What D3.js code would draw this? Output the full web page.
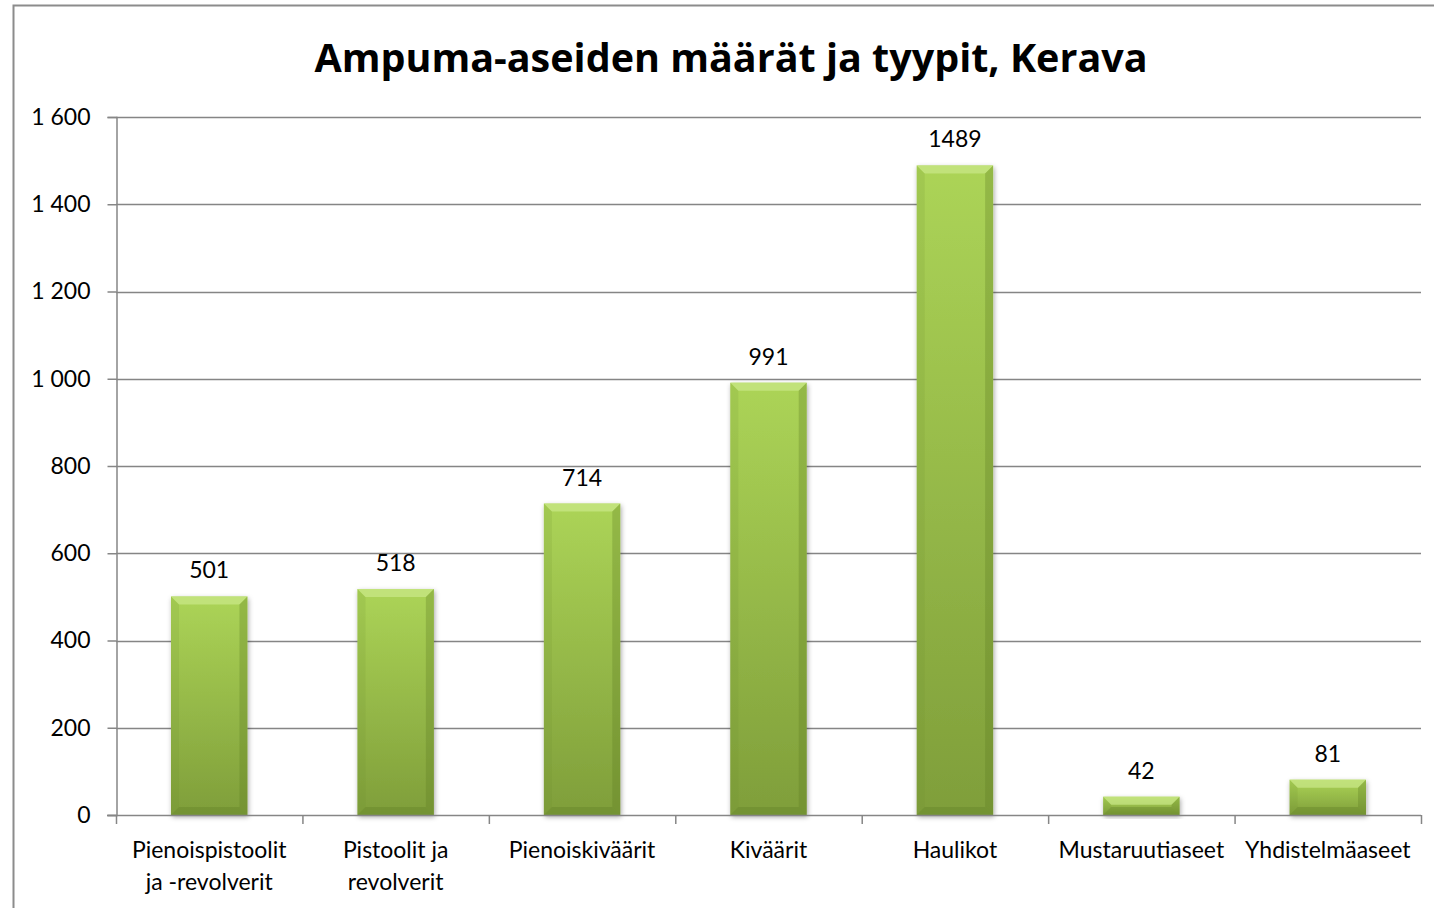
<!DOCTYPE html>
<html>
<head>
<meta charset="utf-8">
<script src="https://cdn.jsdelivr.net/npm/d3@7"></script>
<style>
  html, body { margin: 0; padding: 0; background: #fff; }
  svg { display: block; font-family: Lato, "Open Sans", sans-serif; }
</style>
</head>
<body>
<svg id="chart" width="1434" height="908"></svg>
<script>
// chart data
const categories = [
  ['Pienoispistoolit', 'ja -revolverit'],
  ['Pistoolit ja', 'revolverit'],
  ['Pienoiskiväärit'],
  ['Kiväärit'],
  ['Haulikot'],
  ['Mustaruutiaseet'],
  ['Yhdistelmäaseet']
];
const counts = [501, 518, 714, 991, 1489, 42, 81];
const yTicks = [0, 200, 400, 600, 800, 1000, 1200, 1400, 1600];
const title = 'Ampuma-aseiden määrät ja tyypit, Kerava';

const svg = d3.select('#chart');
const margin = { left: 116, right: 1421, top: 117, bottom: 815 };
const fontSize = 23;

// outer frame of the chart object
svg.append('rect')
  .attr('x', 13.5).attr('y', 5.5)
  .attr('width', 1440).attr('height', 920)
  .attr('fill', 'none')
  .attr('stroke', '#8c8c8c')
  .attr('stroke-width', 2);

svg.append('text')
  .attr('x', 731).attr('y', 72)
  .attr('text-anchor', 'middle')
  .attr('font-family', '"Open Sans", sans-serif')
  .attr('font-size', 39.5)
  .attr('font-weight', 'bold')
  .attr('fill', '#000')
  .text(title);

const x = d3.scaleBand()
  .domain(d3.range(categories.length))
  .range([margin.left, margin.right])
  .paddingInner(0.59)
  .paddingOuter(0.295);

const y = d3.scaleLinear()
  .domain([0, 1600])
  .range([margin.bottom, margin.top]);

const fmt = v => d3.format(',')(v).replace(/,/g, ' ');

// gridlines
svg.append('g')
  .selectAll('line')
  .data(yTicks.filter(t => t > 0))
  .enter().append('line')
  .attr('x1', margin.left).attr('x2', margin.right)
  .attr('y1', d => Math.round(y(d)) + 0.5)
  .attr('y2', d => Math.round(y(d)) + 0.5)
  .attr('stroke', '#858585')
  .attr('stroke-width', 1.4);

// y axis
const yAxis = svg.append('g')
  .attr('transform', `translate(${margin.left + 0.5},0)`)
  .call(d3.axisLeft(y).tickValues(yTicks).tickSize(9).tickPadding(17).tickFormat(fmt));
yAxis.selectAll('line, path').attr('stroke', '#868686').attr('stroke-width', 1.5);
yAxis.selectAll('text').attr('font-size', fontSize).attr('fill', '#000')
  .attr('font-family', 'Lato, sans-serif');

// bar gradient + bevel pieces
const defs = svg.append('defs');
const grad = defs.append('linearGradient')
  .attr('id', 'barGrad').attr('x1', 0).attr('y1', 0).attr('x2', 0).attr('y2', 1);
grad.append('stop').attr('offset', '0%').attr('stop-color', '#acd457');
grad.append('stop').attr('offset', '100%').attr('stop-color', '#7f9e3a');

const shadow = defs.append('filter').attr('id', 'shadow')
  .attr('x', '-20%').attr('y', '-20%').attr('width', '140%').attr('height', '140%');
shadow.append('feDropShadow')
  .attr('dx', 1).attr('dy', 2).attr('stdDeviation', 2.5)
  .attr('flood-color', '#000').attr('flood-opacity', 0.35);

const bars = svg.append('g')
  .selectAll('g')
  .data(counts)
  .enter().append('g');

const bw = x.bandwidth();
const bev = 8;

bars.append('rect')
  .attr('x', (d, i) => x(i))
  .attr('y', d => y(d))
  .attr('width', bw)
  .attr('height', d => y(0) - y(d))
  .attr('fill', 'url(#barGrad)')
  .attr('filter', 'url(#shadow)');

// bevel: top light, sides & bottom darker
bars.each(function(d, i) {
  const g = d3.select(this);
  const x0 = x(i), x1 = x(i) + bw, y0 = y(d), y1 = y(0);
  const b = Math.min(bev, (y1 - y0) / 2);
  g.append('polygon')
    .attr('points', [[x0, y0], [x1, y0], [x1 - b, y0 + b], [x0 + b, y0 + b]].join(' '))
    .attr('fill', '#cbe88a').attr('opacity', 0.7);
  g.append('polygon')
    .attr('points', [[x0, y0], [x0 + b, y0 + b], [x0 + b, y1 - b], [x0, y1]].join(' '))
    .attr('fill', '#6e8c2c').attr('opacity', 0.15);
  g.append('polygon')
    .attr('points', [[x1, y0], [x1 - b, y0 + b], [x1 - b, y1 - b], [x1, y1]].join(' '))
    .attr('fill', '#5c7a22').attr('opacity', 0.3);
  g.append('polygon')
    .attr('points', [[x0, y1], [x0 + b, y1 - b], [x1 - b, y1 - b], [x1, y1]].join(' '))
    .attr('fill', '#5f7d26').attr('opacity', 0.35);
});

// value labels
bars.append('text')
  .attr('x', (d, i) => x(i) + bw / 2)
  .attr('y', d => y(d) - 18)
  .attr('text-anchor', 'middle')
  .attr('font-size', fontSize)
  .attr('fill', '#000')
  .text(d => d);

// x axis
const step = x.step();
const xAxis = svg.append('g');
xAxis.append('line')
  .attr('x1', 107).attr('x2', margin.right)
  .attr('y1', y(0) + 0.5).attr('y2', y(0) + 0.5)
  .attr('stroke', '#868686').attr('stroke-width', 1.5);
xAxis.selectAll('line.tick')
  .data(d3.range(categories.length + 1))
  .enter().append('line')
  .attr('class', 'tick')
  .attr('x1', i => margin.left + i * step + 0.5)
  .attr('x2', i => margin.left + i * step + 0.5)
  .attr('y1', y(0)).attr('y2', y(0) + 9)
  .attr('stroke', '#868686').attr('stroke-width', 1.5);

const catText = xAxis.selectAll('text.cat')
  .data(categories)
  .enter().append('text')
  .attr('class', 'cat')
  .attr('x', (d, i) => x(i) + bw / 2)
  .attr('y', 858)
  .attr('text-anchor', 'middle')
  .attr('font-size', fontSize)
  .attr('fill', '#000');
catText.each(function(lines) {
  const t = d3.select(this);
  lines.forEach((ln, k) => {
    t.append('tspan')
      .attr('x', t.attr('x'))
      .attr('dy', k === 0 ? 0 : 32)
      .text(ln);
  });
});
</script>
</body>
</html>
